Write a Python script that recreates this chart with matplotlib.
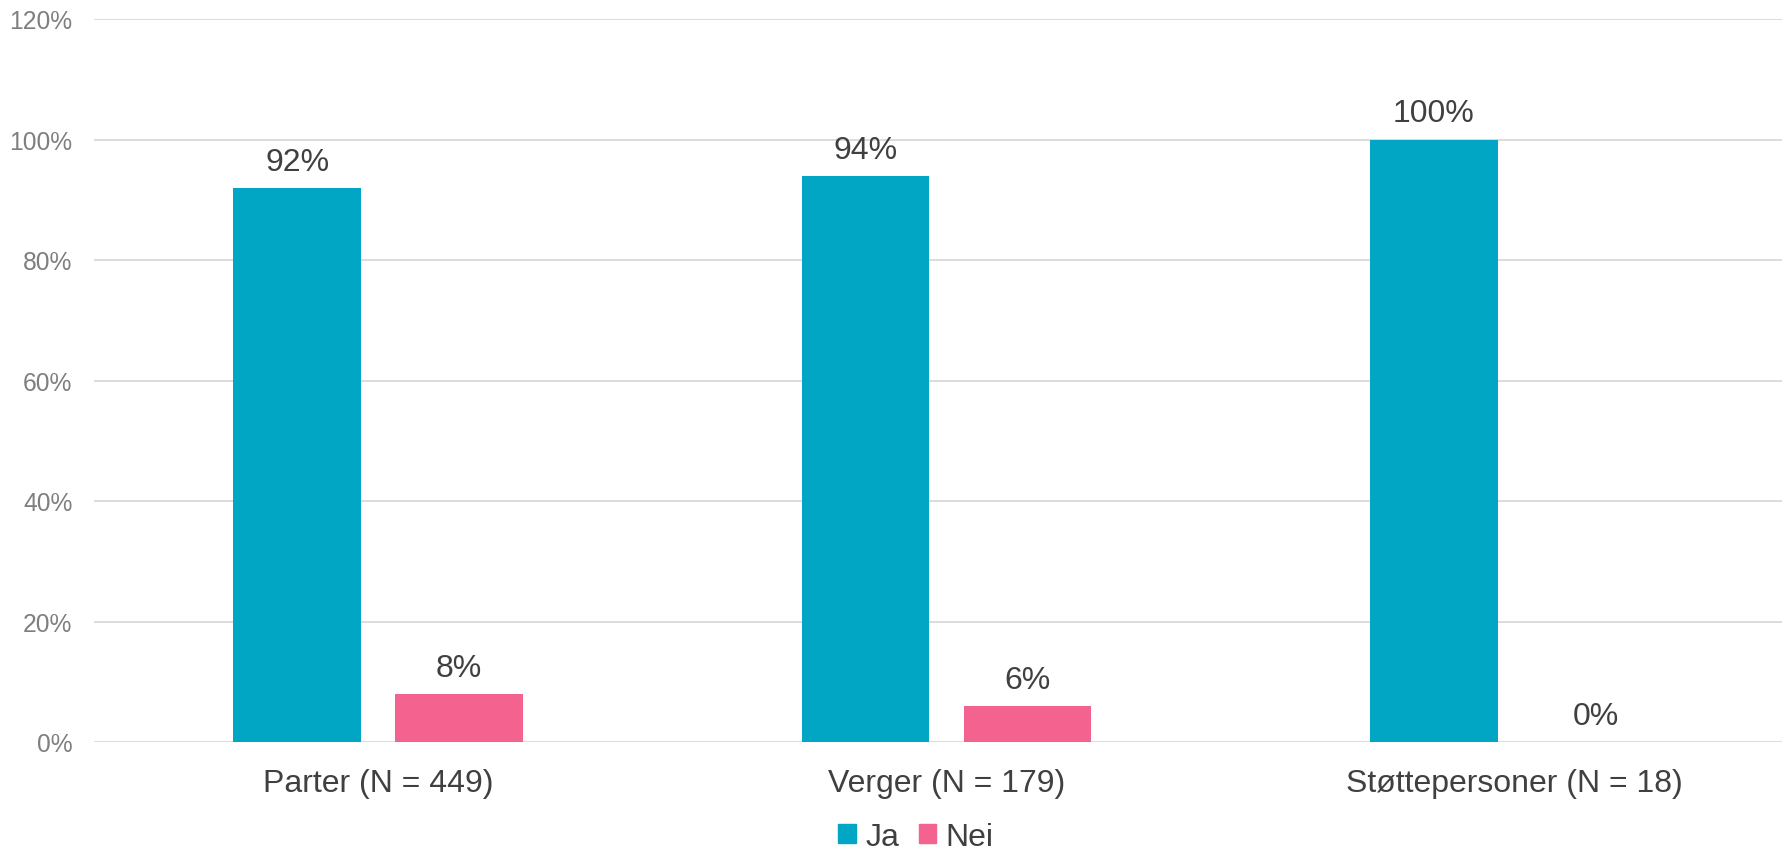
import matplotlib.pyplot as plt
import numpy as np
from matplotlib.patches import Patch

plt.rcParams['font.family'] = ['Liberation Sans', 'DejaVu Sans']

#%% Data
categories = ["Parter (N = 449)", "Verger (N = 179)", "Støttepersoner (N = 18)"]
ja_values = [92, 94, 100]
nei_values = [8, 6, 0]
series_names = ["Ja", "Nei"]
y_ticks = [0, 20, 40, 60, 80, 100, 120]

ja_color = "#00A6C4"
nei_color = "#F46390"
text_color = "#404040"
tick_color = "#7F7F7F"
grid_color = "#D9D9D9"

#%% Plot
fig = plt.figure(figsize=(17.82, 8.54), dpi=100)
# plot area runs a bit past the right edge, like in the source image
ax = fig.add_axes([94 / 1782, 111 / 854, 1705 / 1782, 723 / 854])

x = np.arange(len(categories))
width = 0.225
offset = 0.1425

bars_ja = ax.bar(x - offset, ja_values, width, color=ja_color, zorder=3)
bars_nei = ax.bar(x + offset, nei_values, width, color=nei_color, zorder=3)

for bars, vals in [(bars_ja, ja_values), (bars_nei, nei_values)]:
    for b, v in zip(bars, vals):
        ax.annotate(f"{v}%", (b.get_x() + b.get_width() / 2, v),
                    xytext=(0, 8), textcoords="offset points",
                    ha="center", va="bottom", fontsize=23, color=text_color)

ax.set_xlim(-0.5, len(categories) - 0.5)
ax.set_ylim(0, 120)
ax.set_yticks(y_ticks)
ax.set_yticklabels([f"{t}%" for t in y_ticks])
ax.set_xticks(x)
ax.set_xticklabels(categories)

ax.tick_params(axis="y", length=0, pad=15.5, labelsize=17.7, labelcolor=tick_color)
ax.tick_params(axis="x", length=0, pad=19, labelsize=23, labelcolor=text_color)

ax.grid(axis="y", color=grid_color, linewidth=1.3, zorder=0)
for s in ax.spines.values():
    s.set_visible(False)

handles = [Patch(color=ja_color), Patch(color=nei_color)]
fig.legend(handles, series_names, loc="center", bbox_to_anchor=(916 / 1782, 16 / 854),
           ncol=2, frameon=False, fontsize=23, labelcolor=text_color,
           handlelength=0.55, handleheight=0.55, handletextpad=0.3, columnspacing=0.6,
           borderpad=0.1)

fig.savefig("out.png", dpi=100)
